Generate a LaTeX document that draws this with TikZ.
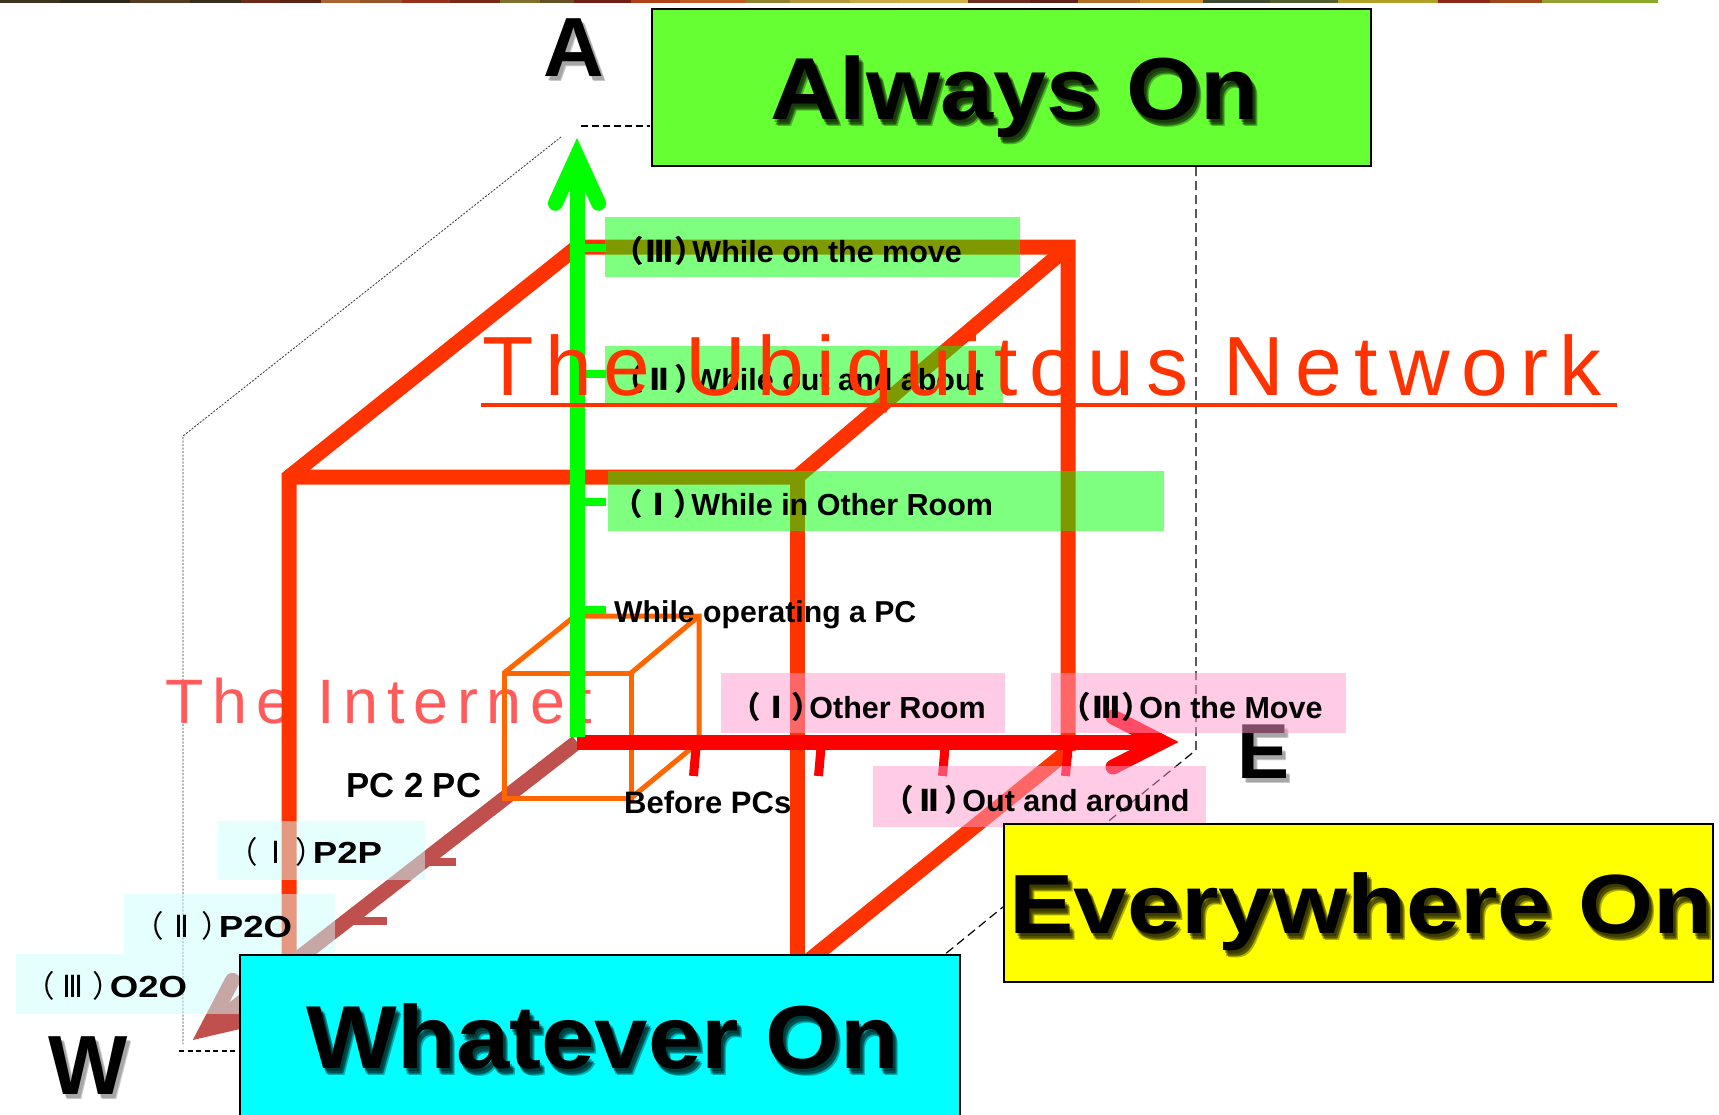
\documentclass[tikz,border=0pt]{standalone}
\usepackage{fontspec}
\setmainfont{Liberation Sans}
\newfontfamily\jpfont[RawFeature=+palt]{Noto Sans CJK JP}
\newfontfamily\numfont{DejaVu Sans}
\newfontfamily\headfont[LetterSpace=14]{Liberation Sans}
\definecolor{cubered}{HTML}{FF3300}
\definecolor{pcorange}{HTML}{FF6600}
\definecolor{wbrown}{HTML}{C0504D}
\definecolor{agreen}{HTML}{00FF00}
\definecolor{ered}{HTML}{FF0000}
\definecolor{netred}{HTML}{FF5B5B}
\definecolor{boxgreen}{HTML}{00FF00}
\definecolor{boxpink}{HTML}{FF99CC}
\definecolor{boxcyan}{HTML}{CCFFFF}
\definecolor{alwaysfill}{HTML}{66FF33}
\definecolor{everyfill}{HTML}{FFFF00}
\definecolor{whateverfill}{HTML}{00FFFF}
% bracketed roman numerals in a fixed-width slot: bold for the level labels, light for the network labels
\newcommand\rn[1]{{\jpfont （}\makebox[1.1em][c]{\numfont #1}{\jpfont ）}\hspace{0.04em}}
\newcommand\rnl[1]{{\mdseries\jpfont （}\makebox[1.3em][c]{\mdseries\numfont #1}{\mdseries\jpfont ）}\hspace{0.05em}}
\begin{document}
\begin{tikzpicture}[x=1pt,y=-1pt,
  cubeedge/.style={draw=cubered,line width=15pt,line join=miter},
  pcedge/.style={draw=pcorange,line width=5pt,line join=miter},
  axisline/.style={line width=15pt},
  headline/.style={line width=15pt,line cap=round,line join=miter},
  tickline/.style={line width=8pt},
  guidedash/.style={draw=black,line width=1.5pt,dash pattern=on 7pt off 4pt},
  guidedot/.style={draw=black!80,line width=0.8pt,dash pattern=on 2pt off 1.5pt},
  labelbox/.style={draw=none,inner sep=0pt,outer sep=0pt,anchor=north west,fill opacity=0.5},
  labeltext/.style={anchor=base west,inner sep=0pt,text=black,font=\fontsize{30.5}{36}\selectfont\bfseries},
  bigbox/.style={draw=black,line width=2pt,inner sep=0pt,outer sep=0pt,anchor=north west},
  bigword/.style={anchor=base,inner sep=0pt,text=black,font=\fontsize{#1}{#1}\selectfont\bfseries},
  axisletter/.style={anchor=base,inner sep=0pt,font=\fontsize{84}{96}\selectfont\bfseries},
]
\useasboundingbox (0,0) rectangle (1719,1114);
\fill[white] (0,0) rectangle (1719,1114);

% decorative stripe along the top edge
\foreach \a/\b/\r/\g/\bl in {0/60/60/50/30,60/130/45/40/25,130/190/80/60/35,190/241/55/45/28,
  241/280/110/40/25,280/321/90/35/22,321/360/170/100/50,360/402/150/85/40,402/450/150/50/25,
  450/500/120/40/20,500/540/130/110/45,540/574/100/80/35,574/631/110/30/20,631/680/175/65/25,
  680/746/195/90/35,746/790/140/130/50,790/850/180/150/60,850/900/200/170/70,900/968/210/176/72,
  968/1030/110/45/32,1030/1078/95/35/28,1078/1140/176/112/40,1140/1203/208/144/48,
  1203/1270/62/74/50,1270/1338/80/95/45,1338/1438/176/160/40,1438/1490/140/40/24,
  1490/1542/160/70/30,1542/1600/150/160/50,1600/1658/140/170/40}
  \fill[fill={rgb,255:red,\r;green,\g;blue,\bl}] (\a,0) rectangle (\b,3);

% key points of the axes and the large cube
\coordinate (O) at (577,742);
\coordinate (btl) at (577,247);
\coordinate (btr) at (1068,247);
\coordinate (bbr) at (1068,751);
\coordinate (ftl) at (289,477);
\coordinate (ftr) at (797,477);
\coordinate (fbl) at (289,990);
\coordinate (fbr) at (797,990);
\coordinate (fbd) at (797,970);

% projection guides
\draw[guidedash] (581,126) -- (650,126);
\draw[guidedot] (561,137) -- (183,436) -- (183,1044);
\draw[guidedash,line width=1.2pt,dash pattern=on 5pt off 3.5pt] (179,1051) -- (240,1051);
\draw[guidedash,line width=1.2pt,dash pattern=on 9pt off 5pt] (1196,167) -- (1196,750) -- (944,955);

% axis letters with soft shadows
\foreach \dx/\dy in {3/4,4/5}{
  \node[axisletter,text=black!60,text opacity=0.35,xshift=\dx pt,yshift=-\dy pt] at (574,76) {A};
  \node[axisletter,text=black!60,text opacity=0.35,xshift=\dx pt,yshift=-\dy pt,font=\fontsize{78}{90}\selectfont\bfseries] at (1263,778) {E};
  \node[axisletter,text=black!60,text opacity=0.35,xshift=\dx pt,yshift=-\dy pt] at (88,1094) {W};
}
\node[axisletter] (letterA) at (574,76) {A};
\node[axisletter,font=\fontsize{78}{90}\selectfont\bfseries] (letterE) at (1263,778) {E};
\node[axisletter] (letterW) at (88,1094) {W};

% lower layer caption
\node[anchor=base west,inner sep=0pt,text=netred,font=\headfont\fontsize{62.8}{70}\selectfont] (internet) at (165,723) {The Internet};

% the large cube
\draw[cubeedge] (fbl) -- (ftl) -- (btl) -- (btr) -- (bbr);
\draw[cubeedge] (ftl) -- (ftr) -- (btr);
\draw[cubeedge] (ftr) -- (fbr);
\draw[cubeedge] (bbr) -- (fbd);

% W axis
\coordinate (Wv) at (207,1029);
\draw[axisline,draw=wbrown] (O) -- (210,1027);
\draw[headline,draw=wbrown] (232.5,980.3) -- (Wv) -- (260.6,1016.5);
\draw[tickline,draw=wbrown] (422,862) -- (456,862);
\draw[tickline,draw=wbrown] (347,920.5) -- (387,920.5);

% the small cube
\coordinate (pbtl) at (575,616);
\coordinate (pbtr) at (699,616);
\coordinate (pbbr) at (699,742);
\coordinate (pftl) at (504,673);
\coordinate (pftr) at (631,673);
\coordinate (pfbr) at (631,798);
\coordinate (pfbl) at (504,798);
\draw[pcedge] (pbtl) -- (pbtr) -- (pbbr) -- (pfbr);
\draw[pcedge] (pftl) -- (pftr) -- (pfbr) -- (pfbl) -- cycle;
\draw[pcedge] (pbtl) -- (pftl);
\draw[pcedge] (pbtr) -- (pftr);
\draw[pcedge] (pfbl) -- (534,798);

% E axis
\coordinate (Ev) at (1162,742);
\draw[axisline,draw=ered] (O) -- (1160,742);
\draw[headline,draw=ered] (1113,717) -- (Ev) -- (1113,767);
\foreach \x in {695,820,944,1067}
  \draw[tickline,draw=ered,line width=9pt] (\x+1.5,742) -- (\x-1.5,776);

% A axis
\coordinate (Av) at (577,156);
\draw[axisline,draw=agreen] (577,737) -- (577,160);
\draw[headline,draw=agreen] (555.4,203.3) -- (Av) -- (598.6,203.3);
\foreach \y in {248,374,501.5,610}
  \draw[tickline,draw=agreen] (577,\y) -- (606,\y);

% translucent label boxes
\node[labelbox,fill=boxgreen,minimum width=415pt,minimum height=60pt] (g3box) at (605,217) {};
\node[labelbox,fill=boxgreen,minimum width=398pt,minimum height=57pt] (g2box) at (605,346) {};
\node[labelbox,fill=boxgreen,minimum width=556pt,minimum height=60pt] (g1box) at (608,471) {};
\node[labelbox,fill=boxpink,minimum width=284pt,minimum height=60pt] (p1box) at (721,673) {};
\node[labelbox,fill=boxpink,minimum width=295pt,minimum height=60pt] (p3box) at (1051,673) {};
\node[labelbox,fill=boxpink,minimum width=333pt,minimum height=61pt] (p2box) at (873,766) {};
\node[labelbox,fill=boxcyan,minimum width=207pt,minimum height=59pt] (c1box) at (218,821) {};
\node[labelbox,fill=boxcyan,minimum width=211pt,minimum height=60pt] (c2box) at (124,894) {};
\node[labelbox,fill=boxcyan,minimum width=229pt,minimum height=60pt] (c3box) at (16,954) {};

\node[labeltext] (g3) at (627,262) {\rn{Ⅲ}While on the move};
\node[labeltext] (g2) at (627,390) {\rn{Ⅱ}While out and about};
\node[labeltext] (g1) at (626,515) {\rn{Ⅰ}While in Other Room};
\node[labeltext] (p1) at (744,718) {\rn{Ⅰ}Other Room};
\node[labeltext] (p3) at (1074,718) {\rn{Ⅲ}On the Move};
\node[labeltext] (p2) at (897,811) {\rn{Ⅱ}Out and around};
\node[labeltext] (c1) at (241,863) {\rnl{Ⅰ}\scalebox{1.2}[1]{P2P}};
\node[labeltext] (c2) at (147,937) {\rnl{Ⅱ}\scalebox{1.2}[1]{P2O}};
\node[labeltext] (c3) at (38,997) {\rnl{Ⅲ}\scalebox{1.2}[1]{O2O}};

% upper layer caption
\node[anchor=base west,inner sep=0pt,text=cubered,font=\headfont\fontsize{84}{96}\selectfont] (ubiq) at (482,395) {The Ubiquitous Network};
\draw[draw=cubered,line width=4pt] (481,405) -- (1617,405);

% level labels
\node[labeltext,font=\fontsize{30.2}{36}\selectfont\bfseries] (pcop) at (614,622) {While operating a PC};
\node[labeltext,font=\fontsize{34.7}{40}\selectfont\bfseries] (pc2pc) at (346,797) {PC 2 PC};
\node[labeltext,font=\fontsize{31}{36}\selectfont\bfseries] (before) at (624,813) {Before PCs};

% headline boxes
\node[bigbox,fill=alwaysfill,minimum width=719pt,minimum height=157pt] (alwaysbox) at (652,9) {};
\node[bigbox,fill=everyfill,minimum width=709pt,minimum height=158pt] (everybox) at (1004,824) {};
\node[bigbox,fill=whateverfill,minimum width=720pt,minimum height=170pt] (whateverbox) at (240,955) {};

\foreach \dx/\dy in {2/3,4/5,5/7,3/6}{
  \node[bigword=88,text opacity=0.3,xshift=\dx pt,yshift=-\dy pt] at (1015,119) {\scalebox{1.085}[1]{Always On}};
  \node[bigword=84,text opacity=0.3,xshift=\dx pt,yshift=-\dy pt] at (1361,933) {\scalebox{1.15}[1]{Everywhere On}};
  \node[bigword=89.4,text opacity=0.3,xshift=\dx pt,yshift=-\dy pt] at (603,1068) {\scalebox{1.074}[1]{Whatever On}};
}
\node[bigword=88] (alwaysword) at (1015,119) {\scalebox{1.085}[1]{Always On}};
\node[bigword=84] (everyword) at (1361,933) {\scalebox{1.15}[1]{Everywhere On}};
\node[bigword=89.4] (whateverword) at (603,1068) {\scalebox{1.074}[1]{Whatever On}};
\end{tikzpicture}
\end{document}
